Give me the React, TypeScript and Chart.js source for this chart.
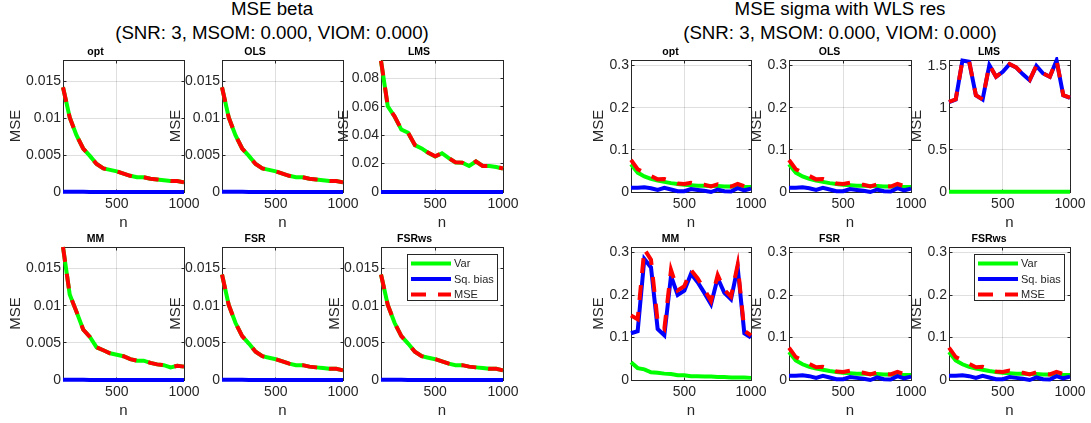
import React, { useEffect, useRef } from 'react';
import { Chart, registerables } from 'chart.js';
Chart.register(...registerables);

// ---------- data ----------
const nValues = [100, 150, 200, 250, 300, 350, 400, 450, 500, 550, 600, 650, 700, 750, 800, 850, 900, 950, 1000];
const xTickValues = [500, 1000];
const seriesLabels = ['Var', 'Sq. bias', 'MSE'];

// MSE beta
const betaOptVar = [0.0142, 0.0101, 0.0077, 0.0059, 0.0049, 0.0038, 0.0032, 0.0030, 0.0028, 0.0025, 0.0022, 0.0020, 0.0020, 0.0018, 0.0017, 0.0016, 0.0015, 0.0015, 0.0013];
const betaOptBias = [0.00003, 0.00002, 0.00002, 0.00002, 0.00001, 0.00001, 0.00001, 0.00001, 0.00001, 0.00001, 0.00001, 0.00001, 0.00001, 0.00001, 0.00001, 0.00001, 0.00001, 0.00001, 0.00001];
const betaOptMse = [0.0142, 0.0101, 0.0077, 0.0059, 0.0049, 0.0038, 0.0032, 0.0030, 0.0028, 0.0025, 0.0022, 0.0020, 0.0020, 0.0018, 0.0017, 0.0016, 0.0015, 0.0015, 0.0013];

const betaLmsVar = [0.0924, 0.0604, 0.0532, 0.0440, 0.0417, 0.0330, 0.0307, 0.0275, 0.0250, 0.0273, 0.0238, 0.0208, 0.0206, 0.0183, 0.0215, 0.0183, 0.0183, 0.0176, 0.0165];
const betaLmsBias = [0.00008, 0.00006, 0.00005, 0.00004, 0.00004, 0.00003, 0.00003, 0.00003, 0.00002, 0.00003, 0.00002, 0.00002, 0.00002, 0.00002, 0.00002, 0.00002, 0.00002, 0.00002, 0.00002];
const betaLmsMse = [0.0925, 0.0605, 0.0533, 0.0441, 0.0418, 0.0331, 0.0308, 0.0276, 0.0251, 0.0274, 0.0239, 0.0209, 0.0207, 0.0184, 0.0216, 0.0184, 0.0184, 0.0177, 0.0166];

const betaMmVar = [0.0179, 0.0115, 0.0092, 0.0068, 0.0058, 0.0044, 0.0040, 0.0036, 0.0034, 0.0032, 0.0028, 0.0026, 0.0026, 0.0023, 0.0021, 0.0020, 0.0017, 0.0019, 0.0018];
const betaMmBias = [0.00003, 0.00002, 0.00002, 0.00002, 0.00001, 0.00001, 0.00001, 0.00001, 0.00001, 0.00001, 0.00001, 0.00001, 0.00001, 0.00001, 0.00001, 0.00001, 0.00001, 0.00001, 0.00001];
const betaMmMse = [0.0179, 0.0115, 0.0092, 0.0068, 0.0058, 0.0044, 0.0040, 0.0036, 0.0034, 0.0032, 0.0028, 0.0026, 0.0026, 0.0023, 0.0021, 0.0020, 0.0017, 0.0019, 0.0018];

// MSE sigma with WLS res
const sigmaOptVar = [0.066, 0.046, 0.037, 0.031, 0.027, 0.024, 0.021, 0.019, 0.017, 0.016, 0.015, 0.015, 0.014, 0.014, 0.013, 0.013, 0.012, 0.012, 0.012];
const sigmaOptBias = [0.010, 0.010, 0.011, 0.009, 0.005, 0.010, 0.006, 0.002, 0.002, 0.007, 0.005, 0.003, 0.000, 0.006, 0.002, 0.001, 0.009, 0.004, 0.008];
const sigmaOptMse = [0.076, 0.054, 0.046, 0.038, 0.030, 0.031, 0.026, 0.020, 0.019, 0.022, 0.019, 0.017, 0.013, 0.018, 0.014, 0.013, 0.019, 0.014, 0.017];

const sigmaLmsVar = [0.004, 0.003, 0.003, 0.003, 0.002, 0.002, 0.002, 0.002, 0.002, 0.002, 0.002, 0.002, 0.002, 0.002, 0.002, 0.002, 0.002, 0.002, 0.002];
const sigmaLmsBias = [1.066, 1.097, 1.562, 1.547, 1.148, 1.098, 1.508, 1.368, 1.428, 1.518, 1.478, 1.398, 1.328, 1.498, 1.408, 1.368, 1.563, 1.148, 1.118];
const sigmaLmsMse = [1.07, 1.10, 1.565, 1.55, 1.15, 1.10, 1.51, 1.37, 1.43, 1.52, 1.48, 1.40, 1.33, 1.50, 1.41, 1.37, 1.565, 1.15, 1.12];

const sigmaMmVar = [0.042, 0.028, 0.025, 0.018, 0.017, 0.015, 0.014, 0.011, 0.011, 0.009, 0.009, 0.008, 0.008, 0.007, 0.007, 0.006, 0.006, 0.006, 0.005];
const sigmaMmBias = [0.110, 0.115, 0.285, 0.265, 0.120, 0.105, 0.245, 0.200, 0.210, 0.250, 0.230, 0.205, 0.178, 0.240, 0.205, 0.190, 0.265, 0.110, 0.100];
const sigmaMmMse = [0.152, 0.143, 0.308, 0.283, 0.137, 0.120, 0.259, 0.211, 0.221, 0.259, 0.239, 0.213, 0.186, 0.247, 0.212, 0.196, 0.271, 0.116, 0.105];

const betaTicks = [0, 0.005, 0.01, 0.015];
const betaLmsTicks = [0, 0.02, 0.04, 0.06, 0.08];
const sigmaTicks = [0, 0.1, 0.2, 0.3];
const sigmaLmsTicks = [0, 0.5, 1, 1.5];
const betaMax = 0.0179;
const betaLmsMax = 0.093;
const sigmaMax = 0.313;
const sigmaLmsMax = 1.568;

const leftTitle = ['MSE beta', '(SNR: 3, MSOM: 0.000, VIOM: 0.000)'];
const rightTitle = ['MSE sigma with WLS res', '(SNR: 3, MSOM: 0.000, VIOM: 0.000)'];

// ---------- styles / layout ----------
const FONT = "'Liberation Sans', Arial, Helvetica, sans-serif";
const AXIS = '#262626';
const GRID = 'rgba(38,38,38,0.15)';
const COLORS = ['#00ff00', '#0000ff', '#ff0000'];
const TITLE_H = 14;
const XAXIS_H = 40;
const RIGHT_PAD = 22;

type PanelDef = {
  title: string; left: number; top: number; w: number; h: number; yw: number;
  series: number[][]; ticks: number[]; max: number; legend?: boolean;
};

const panels: PanelDef[] = [
  { title: 'opt', left: 63, top: 60, w: 121, h: 132, yw: 56, series: [betaOptVar, betaOptBias, betaOptMse], ticks: betaTicks, max: betaMax },
  { title: 'OLS', left: 222, top: 60, w: 121, h: 132, yw: 55, series: [betaOptVar, betaOptBias, betaOptMse], ticks: betaTicks, max: betaMax },
  { title: 'LMS', left: 381, top: 60, w: 122, h: 132, yw: 46, series: [betaLmsVar, betaLmsBias, betaLmsMse], ticks: betaLmsTicks, max: betaLmsMax },
  { title: 'opt', left: 631, top: 60, w: 120, h: 132, yw: 41, series: [sigmaOptVar, sigmaOptBias, sigmaOptMse], ticks: sigmaTicks, max: sigmaMax },
  { title: 'OLS', left: 789, top: 60, w: 122, h: 132, yw: 41, series: [sigmaOptVar, sigmaOptBias, sigmaOptMse], ticks: sigmaTicks, max: sigmaMax },
  { title: 'LMS', left: 949, top: 60, w: 121, h: 132, yw: 41, series: [sigmaLmsVar, sigmaLmsBias, sigmaLmsMse], ticks: sigmaLmsTicks, max: sigmaLmsMax },
  { title: 'MM', left: 63, top: 247, w: 121, h: 133, yw: 56, series: [betaMmVar, betaMmBias, betaMmMse], ticks: betaTicks, max: betaMax },
  { title: 'FSR', left: 222, top: 247, w: 121, h: 133, yw: 55, series: [betaOptVar, betaOptBias, betaOptMse], ticks: betaTicks, max: betaMax },
  { title: 'FSRws', left: 381, top: 247, w: 122, h: 133, yw: 55, series: [betaOptVar, betaOptBias, betaOptMse], ticks: betaTicks, max: betaMax, legend: true },
  { title: 'MM', left: 631, top: 247, w: 120, h: 133, yw: 41, series: [sigmaMmVar, sigmaMmBias, sigmaMmMse], ticks: sigmaTicks, max: sigmaMax },
  { title: 'FSR', left: 789, top: 247, w: 122, h: 133, yw: 41, series: [sigmaOptVar, sigmaOptBias, sigmaOptMse], ticks: sigmaTicks, max: sigmaMax },
  { title: 'FSRws', left: 949, top: 247, w: 121, h: 133, yw: 41, series: [sigmaOptVar, sigmaOptBias, sigmaOptMse], ticks: sigmaTicks, max: sigmaMax, legend: true },
];

const al = (p: number) => Math.round(p - 0.5) + 0.5;

const boxPlugin = {
  id: 'matlabBox',
  beforeDatasetsDraw(chart: any) {
    const { ctx, chartArea } = chart;
    const l = al(chartArea.left), r = al(chartArea.right), t = al(chartArea.top), b = al(chartArea.bottom);
    ctx.save();
    ctx.strokeStyle = AXIS;
    ctx.lineWidth = 1;
    ctx.strokeRect(l, t, r - l, b - t);
    const tl = 3;
    ctx.beginPath();
    chart.scales.x.ticks.forEach((tk: any) => {
      const x = al(chart.scales.x.getPixelForValue(tk.value));
      ctx.moveTo(x, b); ctx.lineTo(x, b - tl);
      ctx.moveTo(x, t); ctx.lineTo(x, t + tl);
    });
    chart.scales.y.ticks.forEach((tk: any) => {
      const y = al(chart.scales.y.getPixelForValue(tk.value));
      ctx.moveTo(l, y); ctx.lineTo(l + tl, y);
      ctx.moveTo(r, y); ctx.lineTo(r - tl, y);
    });
    ctx.stroke();
    ctx.restore();
  },
};

const legendPlugin = {
  id: 'boxLegend',
  afterDraw(chart: any, _args: any, opts: any) {
    if (!opts || !opts.show) return;
    const { ctx, chartArea } = chart;
    const bw = 91, bh = 47;
    const bx = Math.round(chartArea.right - 5.5 - bw);
    const by = Math.round(chartArea.top + 7);
    ctx.save();
    ctx.fillStyle = '#ffffff';
    ctx.fillRect(bx, by, bw, bh);
    ctx.strokeStyle = AXIS;
    ctx.lineWidth = 1;
    ctx.strokeRect(bx + 0.5, by + 0.5, bw - 1, bh - 1);
    ctx.font = `11px ${FONT}`;
    ctx.textBaseline = 'middle';
    ctx.textAlign = 'left';
    chart.data.datasets.forEach((d: any, i: number) => {
      const y = by + 9.5 + i * 15.5;
      ctx.beginPath();
      ctx.setLineDash(d.borderDash || []);
      ctx.strokeStyle = d.borderColor;
      ctx.lineWidth = d.borderWidth;
      ctx.moveTo(bx + 4, y);
      ctx.lineTo(bx + 44, y);
      ctx.stroke();
      ctx.setLineDash([]);
      ctx.fillStyle = AXIS;
      ctx.fillText(d.label, bx + 47, y + 0.5);
    });
    ctx.restore();
  },
};

function Panel({ p }: { p: PanelDef }) {
  const ref = useRef<HTMLCanvasElement | null>(null);
  const cw = p.yw + p.w + RIGHT_PAD;
  const chh = TITLE_H + p.h + XAXIS_H;
  useEffect(() => {
    if (!ref.current) return;
    const chart = new Chart(ref.current, {
      type: 'line',
      data: {
        datasets: seriesLabels.map((label, k) => ({
          label,
          data: nValues.map((n, i) => ({ x: n, y: p.series[k][i] })),
          borderColor: COLORS[k],
          backgroundColor: COLORS[k],
          borderWidth: 4,
          borderDash: k === 2 ? [15, 12] : [],
          pointRadius: 0,
          tension: 0,
          fill: false,
          clip: 3,
          order: 3 - k,
        })),
      },
      options: {
        responsive: false,
        animation: false,
        devicePixelRatio: 1,
        events: [],
        layout: { padding: { left: 0, top: 0, right: RIGHT_PAD, bottom: 0 } },
        plugins: {
          legend: { display: false },
          tooltip: { enabled: false },
          title: {
            display: true,
            text: p.title,
            color: '#000000',
            font: { family: FONT, size: 10.5, weight: 'bold', lineHeight: '12px' },
            padding: { top: 0, bottom: 2 },
          },
          boxLegend: { show: !!p.legend },
        } as any,
        scales: {
          x: {
            type: 'linear',
            min: 100,
            max: 1000,
            afterBuildTicks: (s: any) => { s.ticks = xTickValues.map((v) => ({ value: v })); },
            afterFit: (s: any) => { s.height = XAXIS_H; },
            grid: { color: GRID, lineWidth: 1, drawTicks: false },
            border: { display: false },
            ticks: { padding: 4, color: AXIS, font: { family: FONT, size: 14 }, maxRotation: 0, autoSkip: false, callback: (v: any) => String(v) },
            title: { display: true, text: 'n', color: AXIS, font: { family: FONT, size: 15 }, padding: 0 },
          },
          y: {
            type: 'linear',
            min: 0,
            max: p.max,
            afterBuildTicks: (s: any) => { s.ticks = p.ticks.map((v) => ({ value: v })); },
            afterFit: (s: any) => { s.width = p.yw; },
            grid: { color: GRID, lineWidth: 1, drawTicks: false },
            border: { display: false },
            ticks: { padding: 2, color: AXIS, font: { family: FONT, size: 14 }, autoSkip: false, callback: (v: any) => String(v) },
            title: { display: true, text: 'MSE', color: AXIS, font: { family: FONT, size: 15 }, padding: 0 },
          },
        } as any,
      },
      plugins: [boxPlugin, legendPlugin],
    } as any);
    return () => chart.destroy();
  }, []);
  return (
    <canvas
      ref={ref}
      width={cw}
      height={chh}
      style={{ position: 'absolute', left: p.left - p.yw, top: p.top - TITLE_H, width: cw, height: chh }}
    />
  );
}

function SuperTitle({ lines, cx }: { lines: string[]; cx: number }) {
  return (
    <div
      style={{
        position: 'absolute', left: cx - 300, top: -3.5, width: 600, textAlign: 'center',
        fontFamily: FONT, fontSize: 18.7, lineHeight: '24.3px', color: '#000', whiteSpace: 'nowrap',
      }}
    >
      {lines.map((l, i) => <div key={i}>{l}</div>)}
    </div>
  );
}

export default function App() {
  return (
    <div style={{ position: 'absolute', left: 0, top: 0, width: 1091, height: 423, background: '#ffffff', overflow: 'hidden' }}>
      <SuperTitle lines={leftTitle} cx={272} />
      <SuperTitle lines={rightTitle} cx={840} />
      {panels.map((p, i) => <Panel key={i} p={p} />)}
    </div>
  );
}
